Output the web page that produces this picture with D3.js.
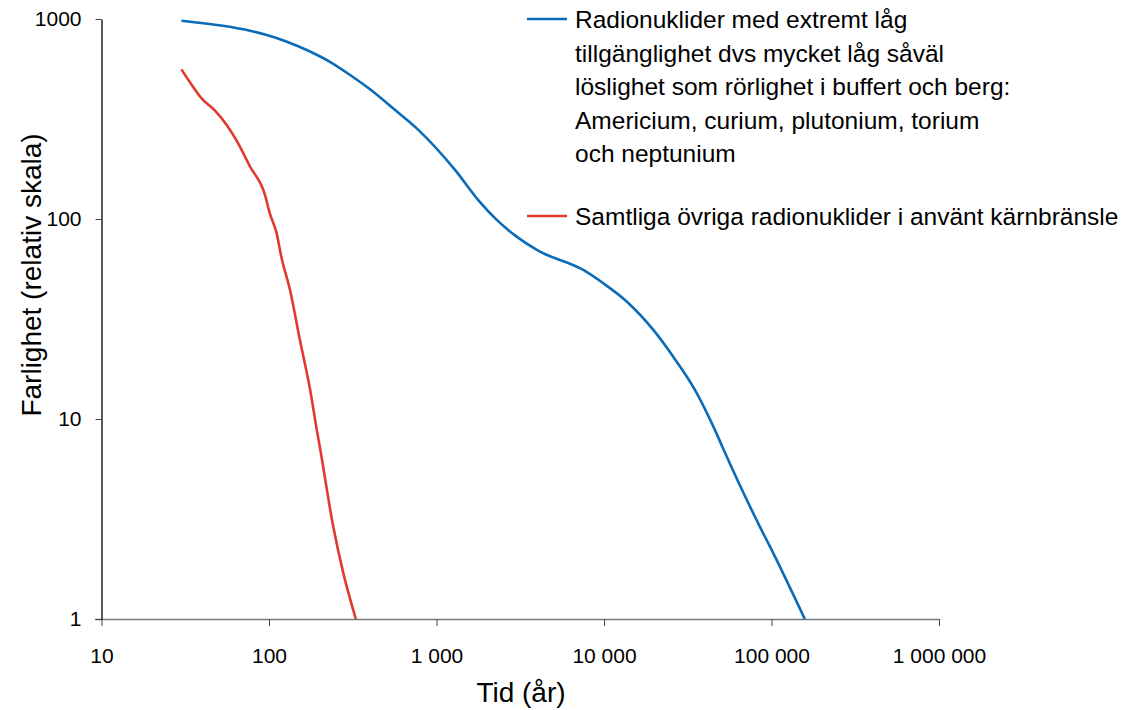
<!DOCTYPE html>
<html>
<head>
<meta charset="utf-8">
<script src="https://cdn.jsdelivr.net/npm/d3@7"></script>
<style>
  body { margin: 0; background: #fff; }
  text { font-family: "Liberation Sans", Arial, sans-serif; fill: #000; }
</style>
</head>
<body>
<script>
// x ticks (years) and y ticks (relative scale)
var xTicks = [10, 100, 1000, 10000, 100000, 1000000];
var yTicks = [1, 10, 100, 1000];

// blue series: Am, Cm, Pu, Th, Np
var blueYears = [30, 53, 77, 97, 128, 168, 231, 305, 401, 552, 762, 1290, 1780, 2290, 3010, 3970, 7520, 9900, 13700, 19700, 25900, 34900, 46000, 51500, 85300, 98000, 158000];
var blueValues = [980, 925, 874, 832, 770, 700, 611, 525, 445, 357, 284, 176, 124, 99, 81.6, 70, 55.6, 47.7, 38.6, 27.9, 20.5, 14.0, 8.8, 7.1, 2.89, 2.3, 1];

// red series: other radionuclides
var redYears = [30, 34.6, 39.6, 47.6, 55.9, 64.7, 77, 94.6, 101, 111, 119, 133.5, 153, 176, 193, 202, 242, 278, 330];
var redValues = [560, 468, 401, 348, 295, 243, 183, 132, 107, 85, 63.6, 44.2, 24.8, 14, 8.8, 7.1, 2.89, 1.69, 1];

var legendLabels = [
  ["Radionuklider med extremt låg", "tillgänglighet dvs mycket låg såväl", "löslighet som rörlighet i buffert och berg:", "Americium, curium, plutonium, torium", "och neptunium"],
  ["Samtliga övriga radionuklider i använt kärnbränsle"]
];

var svgWidth = 1133;
var svgHeight = 710;
var blue = "#0a6cb8";
var red = "#e03a2e";

var svg = d3.select("body")
  .append("svg")
  .attr("width", svgWidth)
  .attr("height", svgHeight);

var x = d3.scaleLog().domain([10, 1000000]).range([101.5, 939]);
var y = d3.scaleLog().domain([1, 1000]).range([619, 19]);

var spaced = function(d) {
  return d3.format(",")(d).replace(/,/g, " ");
};

// x axis
var xAxis = svg.append("g")
  .attr("transform", "translate(0,619)")
  .call(d3.axisBottom(x).tickValues(xTicks).tickFormat(spaced).tickSize(7).tickSizeOuter(0));
xAxis.select(".domain").attr("stroke", "#777").attr("stroke-width", 1.5)
  .attr("d", "M95,0.5H939");
xAxis.selectAll(".tick line").attr("stroke", "#444");
xAxis.selectAll(".tick text")
  .attr("y", 29)
  .style("font-size", "21px")
  .attr("fill", "#000");

// y axis
var yAxis = svg.append("g")
  .attr("transform", "translate(101.5,0)")
  .call(d3.axisLeft(y).tickValues(yTicks).tickFormat(d3.format("d")).tickSize(6).tickSizeOuter(0));
yAxis.select(".domain").attr("stroke", "#000").attr("stroke-width", 1.3);
yAxis.selectAll(".tick line").attr("stroke", "#444");
yAxis.selectAll(".tick text")
  .attr("x", -20)
  .style("font-size", "21px")
  .attr("fill", "#000");

// lines
var line = d3.line()
  .x(function(d) { return x(d[0]); })
  .y(function(d) { return y(d[1]); })
  .curve(d3.curveMonotoneX);

svg.append("path")
  .datum(d3.zip(blueYears, blueValues))
  .attr("d", line)
  .attr("fill", "none")
  .attr("stroke", blue)
  .attr("stroke-width", 2.6);

svg.append("path")
  .datum(d3.zip(redYears, redValues))
  .attr("d", line)
  .attr("fill", "none")
  .attr("stroke", red)
  .attr("stroke-width", 2.6);

// axis titles
svg.append("text")
  .attr("x", 521)
  .attr("y", 702)
  .attr("text-anchor", "middle")
  .style("font-size", "28px")
  .text("Tid (år)");

svg.append("text")
  .attr("transform", "translate(41,275) rotate(-90)")
  .attr("text-anchor", "middle")
  .style("font-size", "28px")
  .text("Farlighet (relativ skala)");

// legend
var legendY = [19, 216];
var legendColors = [blue, red];
legendLabels.forEach(function(lines, i) {
  svg.append("line")
    .attr("x1", 527).attr("x2", 567)
    .attr("y1", legendY[i]).attr("y2", legendY[i])
    .attr("stroke", legendColors[i])
    .attr("stroke-width", 2.6);
  var t = svg.append("text")
    .attr("x", 575)
    .attr("y", legendY[i] + 9)
    .style("font-size", "24.5px");
  lines.forEach(function(s, j) {
    t.append("tspan")
      .attr("x", 575)
      .attr("dy", j === 0 ? 0 : 33.5)
      .text(s);
  });
});
</script>
</body>
</html>
